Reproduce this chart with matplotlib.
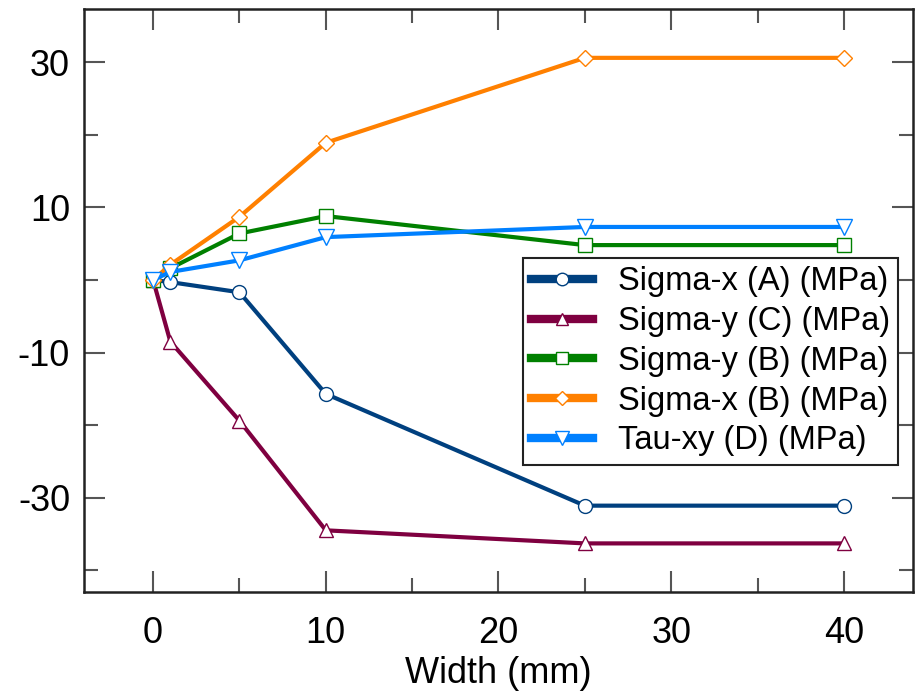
import matplotlib
matplotlib.use("Agg")
import matplotlib.pyplot as plt
from matplotlib.lines import Line2D
from matplotlib.ticker import MultipleLocator

plt.rcParams['font.family'] = ['Liberation Sans', 'DejaVu Sans']
plt.rcParams['axes.unicode_minus'] = False

width = [0, 1, 5, 10, 25, 40]
sigma_x_A = [0, -0.3, -1.7, -15.7, -31.1, -31.1]
sigma_y_C = [0, -8.5, -19.4, -34.5, -36.3, -36.3]
sigma_y_B = [0, 1.6, 6.4, 8.8, 4.8, 4.8]
sigma_x_B = [0, 2.1, 8.7, 18.9, 30.6, 30.6]
tau_xy_D = [0, 1.1, 2.7, 5.9, 7.3, 7.3]

labels = ["Sigma-x (A) (MPa)", "Sigma-y (C) (MPa)", "Sigma-y (B) (MPa)",
          "Sigma-x (B) (MPa)", "Tau-xy (D) (MPa)"]
series = [sigma_x_A, sigma_y_C, sigma_y_B, sigma_x_B, tau_xy_D]
colors = ["#00407F", "#7F0040", "#008000", "#FF8000", "#0080FF"]
markers = ["o", "^", "s", "D", "v"]
msizes = [10, 10, 10, 8, 11]

fig = plt.figure(figsize=(9.16, 6.93), dpi=100)
ax = fig.add_axes([0.0917, 0.1457, 0.905, 0.841])

for y, c, m, ms in zip(series, colors, markers, msizes):
    ax.plot(width, y, color=c, lw=3, marker=m, ms=ms, mfc='white', mec=c, mew=1.0)

ax.set_xlim(-4, 44)
ax.set_ylim(-43, 37.3)
ax.xaxis.set_major_locator(MultipleLocator(10))
ax.xaxis.set_minor_locator(MultipleLocator(5))
ax.set_yticks([-30, -10, 10, 30])
ax.set_yticks([-40, -20, 0, 20], minor=True)

ax.tick_params(which='both', direction='in', top=True, right=True,
               color='#555555', width=1.5, labelsize=26)
ax.tick_params(axis='y', pad=10)
ax.tick_params(axis='x', pad=17)
ax.tick_params(which='major', length=15)
ax.tick_params(which='minor', length=10)
for s in ax.spines.values():
    s.set_linewidth(1.8)
    s.set_color('#222222')

ax.set_xlabel("Width (mm)", fontsize=26, labelpad=4)

handles = [Line2D([0], [0], color=c, lw=6, marker=m, ms=ms * 0.9, mfc='white', mec=c, mew=1.0)
           for c, m, ms in zip(colors, markers, msizes)]
leg = ax.legend(handles, labels, loc='upper left', bbox_to_anchor=(0.5296, 0.573),
                fontsize=23.5, frameon=True, fancybox=False, edgecolor='#222222',
                framealpha=1, handlelength=1.9, handletextpad=0.75, borderpad=0.25,
                labelspacing=0.27, borderaxespad=0)
leg.get_frame().set_linewidth(1.5)

fig.savefig("out.png", dpi=100)
